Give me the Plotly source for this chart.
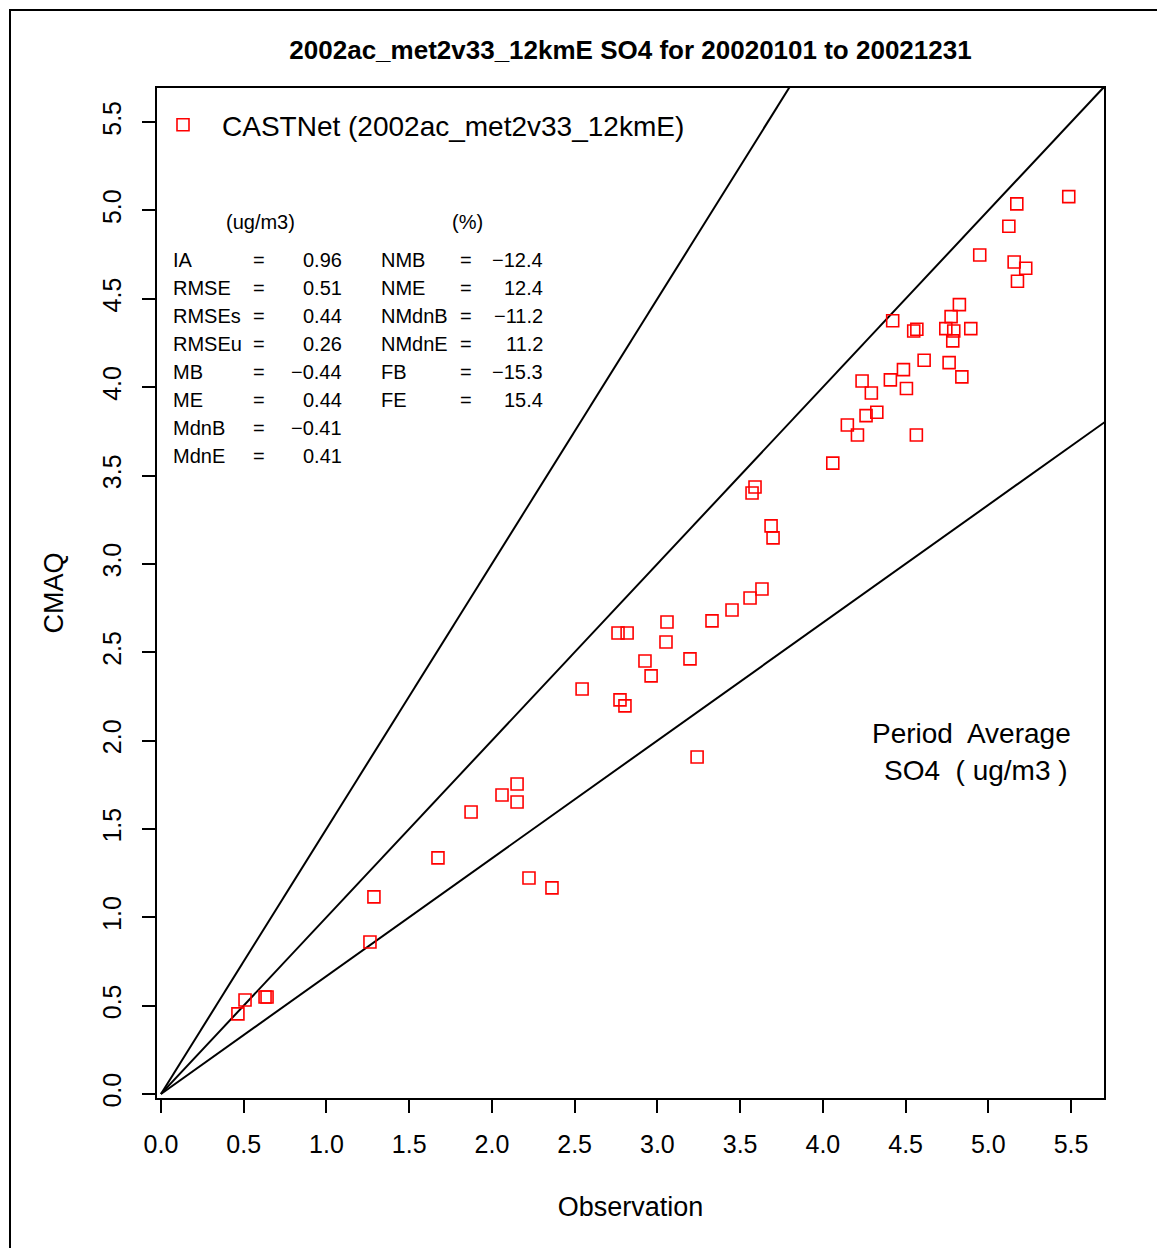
"""
Model vs observation scatter (CMAQ vs CASTNet), period average SO4.
"""

import plotly.graph_objects as go

# observed / modelled period averages (ug/m3), one pair per site
obs = [0.465, 0.508, 0.629, 0.641, 1.263, 1.287, 1.674, 1.874, 2.061, 2.152,
       2.152, 2.224, 2.363, 2.545, 2.762, 2.817, 2.774, 2.804, 2.925, 2.962,
       3.052, 3.058, 3.197, 3.240, 3.330, 3.451, 3.560, 3.632, 3.572, 3.590,
       3.687, 3.699, 5.486, 5.172, 5.124, 4.948, 5.156, 5.226, 5.176, 4.825,
       4.422, 4.775, 4.549, 4.568, 4.743, 4.791, 4.894, 4.785, 4.612, 4.763,
       4.487, 4.840, 4.237, 4.408, 4.505, 4.293, 4.326, 4.261, 4.148, 4.209,
       4.565, 4.060]
cmaq = [0.453, 0.532, 0.549, 0.549, 0.860, 1.115, 1.336, 1.596, 1.692, 1.754,
        1.652, 1.222, 1.166, 2.292, 2.609, 2.609, 2.230, 2.196, 2.450, 2.366,
        2.558, 2.671, 2.462, 1.907, 2.677, 2.739, 2.807, 2.858, 3.401, 3.435,
        3.215, 3.147, 5.078, 5.037, 4.911, 4.748, 4.708, 4.673, 4.599, 4.467,
        4.376, 4.399, 4.318, 4.328, 4.331, 4.318, 4.331, 4.262, 4.152, 4.139,
        4.099, 4.058, 4.035, 4.041, 3.992, 3.967, 3.858, 3.839, 3.786, 3.729,
        3.729, 3.570]

# reference lines: 1.5:1, 1:1, 1:1.5
ratios = [1.5, 1.0, 1 / 1.5]

left_stats = ["IA", "RMSE", "RMSEs", "RMSEu", "MB", "ME", "MdnB", "MdnE"]
left_values = ["0.96", "0.51", "0.44", "0.26", "\u22120.44", "0.44", "\u22120.41", "0.41"]
right_stats = ["NMB", "NME", "NMdnB", "NMdnE", "FB", "FE"]
right_values = ["\u221212.4", "12.4", "\u221211.2", "11.2", "\u221215.3", "15.4"]

tick_vals = [0.0, 0.5, 1.0, 1.5, 2.0, 2.5, 3.0, 3.5, 4.0, 4.5, 5.0, 5.5]
tick_text = [f"{v:.1f}" for v in tick_vals]

FONT = "Liberation Sans, Arial, sans-serif"
OFF = 8                      # page body margin
W, H = 1150, 1240            # figure size
PL, PR, PT, PB = 157, 1104, 88, 1098  # plot area, page pixels


def px_x(p):
    return (p - PL) / (PR - PL)


def px_y(p):
    return (PB - p) / (PB - PT)


fig = go.Figure()

for r in ratios:
    fig.add_trace(
        go.Scatter(
            x=[0, 10],
            y=[0, 10 * r],
            mode="lines",
            line=dict(color="black", width=2),
            showlegend=False,
            hoverinfo="skip",
        )
    )

fig.add_trace(
    go.Scatter(
        x=obs,
        y=cmaq,
        mode="markers",
        name="CASTNet (2002ac_met2v33_12kmE)",
        marker=dict(symbol="square-open", size=12, color="red", line=dict(width=1.6)),
    )
)

annotations = []


def add_text(text, x, y, size=20, anchor="left"):
    annotations.append(
        dict(
            text=text, x=px_x(x), y=px_y(y), xref="paper", yref="paper",
            xanchor=anchor, yanchor="middle", showarrow=False,
            font=dict(family=FONT, size=size, color="black"),
        )
    )


add_text("(ug/m3)", 260, 222, anchor="center")
add_text("(%)", 467, 222, anchor="center")
for i, (lab, val) in enumerate(zip(left_stats, left_values)):
    y = 260 + 28 * i
    add_text(lab, 171, y)
    add_text("=", 259, y, anchor="center")
    add_text(val, 344, y, anchor="right")
for i, (lab, val) in enumerate(zip(right_stats, right_values)):
    y = 260 + 28 * i
    add_text(lab, 379, y)
    add_text("=", 466, y, anchor="center")
    add_text(val, 545, y, anchor="right")

add_text("Period  Average", 971, 733, size=28, anchor="center")
add_text("SO4  ( ug/m3 )", 976, 771, size=28, anchor="center")

axis_common = dict(
    tickvals=tick_vals,
    ticktext=tick_text,
    ticks="outside",
    ticklen=13,
    tickwidth=1.5,
    tickcolor="black",
    showgrid=False,
    zeroline=False,
    showline=True,
    mirror=True,
    linecolor="black",
    linewidth=1.5,
    tickfont=dict(family=FONT, size=25, color="black"),
)

fig.update_layout(
    width=W,
    height=H,
    margin=dict(l=PL - OFF, r=W - (PR - OFF), t=PT - OFF, b=H - (PB - OFF)),
    paper_bgcolor="white",
    plot_bgcolor="white",
    font=dict(family=FONT, color="black"),
    title=dict(
        text="<b>2002ac_met2v33_12kmE SO4 for 20020101 to 20021231</b>",
        x=0.5,
        xref="paper",
        y=1 - (50 - OFF) / H,
        yref="container",
        yanchor="middle",
        font=dict(family=FONT, size=26, color="black"),
    ),
    xaxis=dict(
        range=[-0.024, 5.699],
        title=dict(text="Observation", font=dict(size=27), standoff=40),
        ticklabelstandoff=10,
        **axis_common,
    ),
    yaxis=dict(
        range=[-0.023, 5.693],
        title=dict(text="CMAQ", font=dict(size=27), standoff=27),
        tickangle=-90,
        ticklabelstandoff=11,
        **axis_common,
    ),
    legend=dict(
        x=px_x(144),
        y=px_y(100),
        xanchor="left",
        yanchor="top",
        itemwidth=68,
        bgcolor="rgba(0,0,0,0)",
        font=dict(family=FONT, size=28, color="black"),
    ),
    annotations=annotations,
    shapes=[
        dict(
            type="rect", xref="paper", yref="paper",
            x0=px_x(10), x1=px_x(1200), y0=px_y(1300), y1=px_y(10),
            line=dict(color="black", width=2),
            layer="below",
        )
    ],
)

fig.write_html("out.html")
